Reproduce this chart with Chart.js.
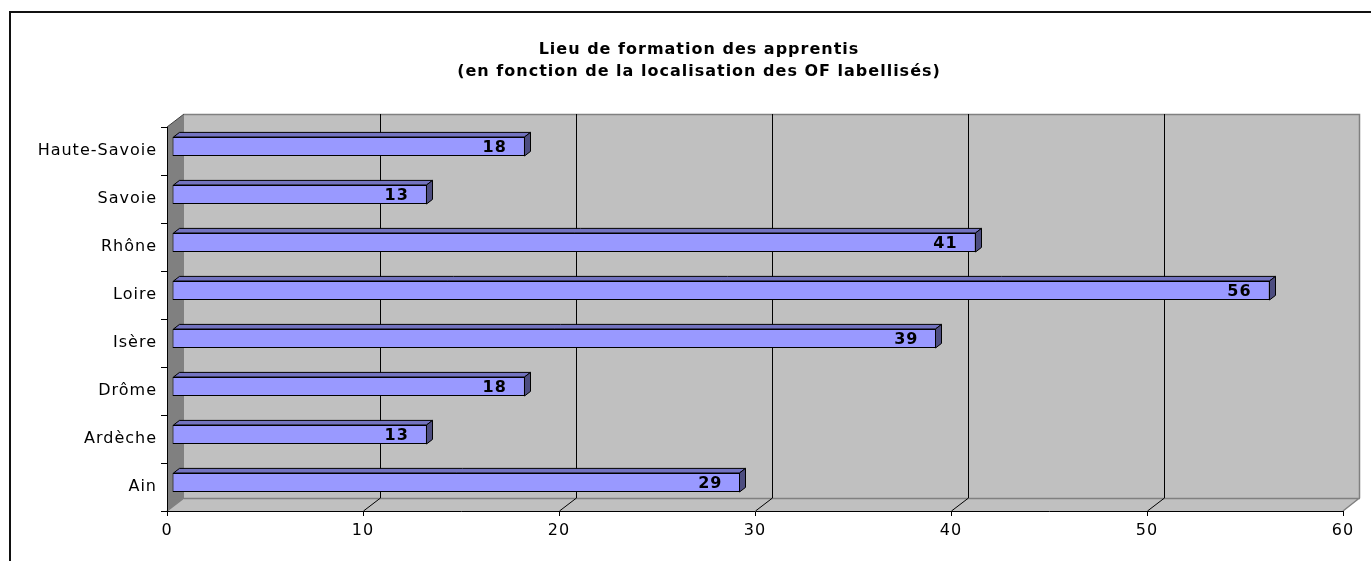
<!DOCTYPE html>
<html><head><meta charset="utf-8">
<script src="https://cdn.jsdelivr.net/npm/chart.js@4"></script>
<style>
html,body{margin:0;padding:0;background:#fff;overflow:hidden;width:1371px;height:561px}
#frame{position:absolute;left:9px;top:11px;width:1400px;height:600px;border-left:2px solid #111;border-top:2px solid #111;box-sizing:border-box}
#c{position:absolute;left:0;top:0}
</style></head><body>
<div id="frame"></div>
<canvas id="c" width="1398" height="561"></canvas>
<script>
const titleLines = ['Lieu de formation des apprentis', '(en fonction de la localisation des OF labellisés)'];
const categories = ['Haute-Savoie', 'Savoie', 'Rhône', 'Loire', 'Isère', 'Drôme', 'Ardèche', 'Ain'];
const values = [18, 13, 41, 56, 39, 18, 13, 29];
const xMin = 0, xMax = 60, xStep = 10;

const DX = 17, DY = 13;          // depth of the 3D walls
const BAR_DX = 5, BAR_DY = 4.5;  // bar plane offset
const FX = 6, FY = 4.6;          // bar depth faces
const FONT = '"DejaVu Sans", Verdana, sans-serif';

const threeD = {
  id: 'threeD',
  beforeUpdate(chart) { chart.ctx.letterSpacing = '1px'; },
  beforeLayout(chart) { chart.ctx.letterSpacing = '1px'; },
  beforeDraw(chart) {
    const ctx = chart.ctx;
    ctx.letterSpacing = '1px';
    const a = chart.chartArea, xs = chart.scales.x;
    const L = a.left, R = a.right, T = a.top, B = a.bottom;
    ctx.save();
    ctx.fillStyle = '#c0c0c0';
    ctx.fillRect(L + DX, T - DY, R - L, B - T);
    ctx.beginPath();
    ctx.moveTo(L, B); ctx.lineTo(L + DX, B - DY); ctx.lineTo(R + DX, B - DY); ctx.lineTo(R, B); ctx.closePath();
    ctx.fill();
    ctx.fillStyle = '#808080';
    ctx.beginPath();
    ctx.moveTo(L, T); ctx.lineTo(L + DX, T - DY); ctx.lineTo(L + DX, B - DY); ctx.lineTo(L, B); ctx.closePath();
    ctx.fill();
    ctx.strokeStyle = '#808080';
    ctx.lineWidth = 1.5;
    ctx.beginPath();
    ctx.moveTo(L + DX, T - DY + 0.5); ctx.lineTo(R + DX - 0.5, T - DY + 0.5); ctx.lineTo(R + DX - 0.5, B - DY);
    ctx.lineTo(R, B);
    ctx.moveTo(L + DX, B - DY + 0.5); ctx.lineTo(R + DX, B - DY + 0.5);
    ctx.moveTo(L, B); ctx.lineTo(L + DX, B - DY);
    ctx.stroke();
    ctx.strokeStyle = '#404040';
    ctx.lineWidth = 1;
    ctx.beginPath();
    ctx.moveTo(L, T); ctx.lineTo(L + DX, T - DY);
    ctx.stroke();
    ctx.strokeStyle = '#000';
    ctx.lineWidth = 1;
    ctx.beginPath();
    xs.ticks.forEach(t => {
      if (t.value <= xMin || t.value >= xMax) return;
      const x = Math.round(xs.getPixelForValue(t.value)) + 0.5;
      ctx.moveTo(x + DX, T - DY); ctx.lineTo(x + DX, B - DY); ctx.lineTo(x, B);
    });
    ctx.stroke();
    ctx.restore();
  },
  beforeDatasetsDraw(chart) {
    chart.ctx.save();
    chart.ctx.translate(BAR_DX, -BAR_DY);
  },
  afterDatasetsDraw(chart) {
    const ctx = chart.ctx;
    const meta = chart.getDatasetMeta(0);
    const data = chart.data.datasets[0].data;
    ctx.lineWidth = 1;
    ctx.strokeStyle = '#000';
    meta.data.forEach((bar, i) => {
      const p = bar.getProps(['x', 'y', 'base', 'height'], true);
      const top = Math.round(p.y - p.height / 2) + 0.5;
      const bot = Math.round(p.y + p.height / 2) - 0.5;
      const x0 = Math.round(p.base) + 0.5, x1 = Math.round(p.x) - 0.5;
      ctx.fillStyle = '#7373c0';
      ctx.beginPath();
      ctx.moveTo(x0, top); ctx.lineTo(x0 + FX, top - FY); ctx.lineTo(x1 + FX, top - FY); ctx.lineTo(x1, top); ctx.closePath();
      ctx.fill(); ctx.stroke();
      ctx.fillStyle = '#4d4d80';
      ctx.beginPath();
      ctx.moveTo(x1, top); ctx.lineTo(x1 + FX, top - FY); ctx.lineTo(x1 + FX, bot - FY); ctx.lineTo(x1, bot); ctx.closePath();
      ctx.fill(); ctx.stroke();
      ctx.fillStyle = '#000';
      ctx.font = 'bold 16px ' + FONT;
      ctx.textAlign = 'right';
      ctx.textBaseline = 'middle';
      ctx.fillText(String(data[i]), p.x - 18, p.y + 1);
    });
    ctx.restore();
  }
};

new Chart(document.getElementById('c'), {
  type: 'bar',
  data: {
    labels: categories,
    datasets: [{
      data: values,
      backgroundColor: '#9999ff',
      borderColor: '#000',
      borderWidth: 1,
      borderSkipped: false,
      barPercentage: 0.4,
      categoryPercentage: 1
    }]
  },
  options: {
    indexAxis: 'y',
    responsive: false,
    animation: false,
    devicePixelRatio: 1,
    layout: { padding: 0 },
    plugins: {
      legend: { display: false },
      tooltip: { enabled: false },
      title: {
        display: true,
        text: titleLines,
        color: '#000',
        font: { family: FONT, size: 16, weight: 'bold', lineHeight: 1.375 },
        padding: { top: 39, bottom: 44 }
      }
    },
    scales: {
      x: {
        min: xMin, max: xMax,
        ticks: { stepSize: xStep, color: '#000', font: { family: FONT, size: 16 }, padding: 5, maxRotation: 0 },
        grid: { drawOnChartArea: false, drawTicks: true, tickLength: 5, color: '#000' },
        border: { display: true, color: '#000', width: 1 },
        afterFit(s) { s.height = 50; }
      },
      y: {
        ticks: { color: '#000', font: { family: FONT, size: 16 }, padding: 4 },
        grid: { drawOnChartArea: false, drawTicks: true, tickLength: 6, color: '#000', offset: true },
        border: { display: true, color: '#000', width: 1 },
        afterFit(s) { s.width = 167; }
      },
      ySpacer: {
        type: 'linear',
        position: 'right',
        display: true,
        ticks: { display: false },
        grid: { display: false, drawTicks: false },
        border: { display: false },
        afterFit(s) { s.width = 55; }
      }
    }
  },
  plugins: [threeD]
});
</script>
</body></html>
